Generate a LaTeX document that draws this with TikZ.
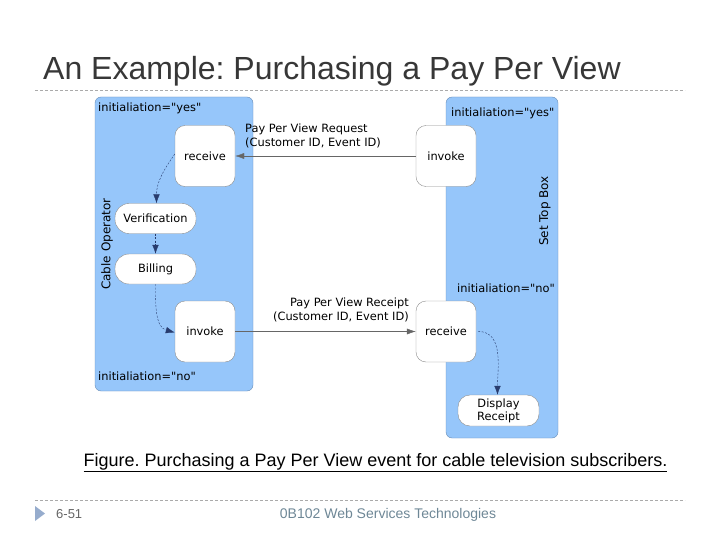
\documentclass[tikz,border=0pt]{standalone}
\usepackage{fontspec}
\setmainfont{Liberation Sans}
\newfontfamily\diagfont{DejaVu Sans}
\usetikzlibrary{positioning,arrows.meta}
\frenchspacing

\definecolor{lanefill}{RGB}{150,198,250}
\definecolor{laneedge}{RGB}{105,140,180}
\definecolor{boxedge}{RGB}{140,140,140}
\definecolor{flowcol}{RGB}{40,60,110}
\definecolor{titlegray}{RGB}{55,55,55}
\definecolor{rulegray}{RGB}{170,170,170}
\definecolor{footgray}{RGB}{110,135,150}
\definecolor{marker}{RGB}{150,172,205}

\tikzset{
  lane/.style={draw=laneedge, fill=lanefill, rounded corners=6pt, inner sep=0pt},
  lanelabel/.style={font=\diagfont\fontsize{11.4}{13}\selectfont, inner sep=0pt},
  lanename/.style={font=\diagfont\fontsize{12}{14}\selectfont, inner sep=0pt, rotate=90},
  statebox/.style={draw=boxedge, fill=white, rounded corners=10pt, minimum width=60pt,
    minimum height=61pt, inner sep=0pt, font=\diagfont\fontsize{11.4}{13}\selectfont},
  activity/.style={draw=boxedge, fill=white, rounded corners=14pt, minimum width=81pt,
    minimum height=30pt, inner sep=0pt, align=center,
    font=\diagfont\fontsize{11.4}{13}\selectfont},
  msglabel/.style={font=\diagfont\fontsize{11.4}{14}\selectfont, inner sep=0pt},
  msg/.style={draw=gray!80!black, -{Latex[length=9pt,width=6pt]}},
  flow/.style={draw=flowcol, dash pattern=on 2pt off 1.5pt, -{Latex[length=9pt,width=6.5pt]}},
  rule/.style={draw=rulegray, dash pattern=on 3pt off 2pt},
}

\begin{document}
\begin{tikzpicture}[x=1pt, y=-1pt]
\useasboundingbox (0,0) rectangle (720,540);

% Title and top rule
\node[anchor=base west, inner sep=0pt, text=titlegray, font=\fontsize{32}{36}\selectfont] (title) at (43,80) {An Example: Purchasing a Pay Per View};
\draw[rule] (35,90) -- (685,90);

% Swimlanes
\node[lane, minimum width=158pt, minimum height=294pt] (cable) at (174,244) {};
\node[lane, minimum width=112pt, minimum height=341pt] (settop) at (502,267.5) {};

\node[lanelabel, anchor=west] (cableyes) at (98,108) {initialiation="yes"};
\node[lanelabel, anchor=west] (cableno) at (98,376) {initialiation="no"};
\node[lanename] (cablename) at (107,244) {Cable Operator};
\node[lanelabel, anchor=west] (setyes) at (451,113) {initialiation="yes"};
\node[lanelabel, anchor=west] (setno) at (457,288) {initialiation="no"};
\node[lanename] (setname) at (545,211) {Set Top Box};

% States and activities
\node[statebox] (recvA) at (205,156) {receive};
\node[statebox] (invokeB) at (446,156) {invoke};
\node[activity] (verif) at (155.5,218.5) {Verification};
\node[activity] (billing) at (155.5,269) {Billing};
\node[statebox] (invokeA) at (205,331.5) {invoke};
\node[statebox] (recvB) at (446,331.5) {receive};
\node[activity, minimum height=31pt, rounded corners=12pt] (display) at (498.5,410.5) {Display\\Receipt};

% Messages between the lanes
\draw[msg] (invokeB) -- (recvA);
\node[msglabel, anchor=north west, align=left] (reqlabel) at (245,124) {Pay Per View Request\\(Customer ID, Event ID)};
\draw[msg] (invokeA) -- (recvB);
\node[msglabel, anchor=north east, align=right] (rcptlabel) at (409,298) {Pay Per View Receipt\\(Customer ID, Event ID)};

% Control flow inside the lanes
\draw[flow] ([yshift=2pt]recvA.west) to[out=235, in=90] ([xshift=1pt]verif.north);
\draw[flow] (verif.south) -- (billing.north);
\draw[flow] (billing.south) to[out=-90, in=165] ([yshift=-1pt]invokeA.west);
\draw[flow] ([xshift=2pt]recvB.east) to[out=0, in=90] ([xshift=-1pt]display.north);

% Caption
\node[anchor=base, inner sep=0pt, font=\fontsize{18}{20}\selectfont] (caption) at (375.5,466) {\underline{Figure. Purchasing a Pay Per View event for cable television subscribers.}};

% Footer
\draw[rule] (35,500) -- (685,500);
\fill[marker] (35,506) -- (45,513.5) -- (35,521) -- cycle;
\node[anchor=base west, inner sep=0pt, text=gray!80!black, font=\fontsize{13}{15}\selectfont] (pagenum) at (56,518) {6-51};
\node[anchor=base, inner sep=0pt, text=footgray, font=\fontsize{14}{16}\selectfont] (course) at (388,518) {0B102 Web Services Technologies};

\end{tikzpicture}
\end{document}
